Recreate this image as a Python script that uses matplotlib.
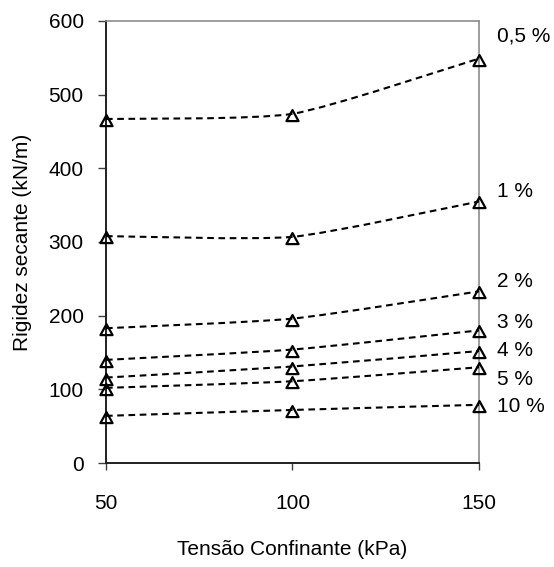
import matplotlib
matplotlib.use("Agg")
import matplotlib.pyplot as plt
from matplotlib.path import Path
from matplotlib.patches import PathPatch

# Confining pressure (kPa) and secant stiffness (kN/m) per strain level
confining_kpa = [50, 100, 150]
strain_labels = ["0,5 %", "1 %", "2 %", "3 %", "4 %", "5 %", "10 %"]
k_0_5 = [467, 474, 549]
k_1 = [308, 307, 355]
k_2 = [183, 196, 233]
k_3 = [140, 154, 180]
k_4 = [116, 131, 152]
k_5 = [102, 111, 130]
k_10 = [64, 72, 79]
series = [k_0_5, k_1, k_2, k_3, k_4, k_5, k_10]

# Vertical placement of the strain labels at the right edge (data units)
label_y = [580, 368, 246, 191, 153, 114, 77]

x_ticks = [50, 100, 150]
y_ticks = [0, 100, 200, 300, 400, 500, 600]

plt.rcParams["font.family"] = ["Liberation Sans", "DejaVu Sans"]
FS = 15

# Open triangle whose apex sits a little closer to the data point than its base
TRIANGLE = Path([(0, 0.667), (-0.917, -1.0), (0.917, -1.0), (0, 0.667)],
                [Path.MOVETO, Path.LINETO, Path.LINETO, Path.CLOSEPOLY])


def smooth_path(xs, ys, tension=0.1):
    """Cubic Bezier path through the points (Catmull-Rom style smoothing)."""
    pts = list(zip(xs, ys))
    n = len(pts)
    verts = [pts[0]]
    codes = [Path.MOVETO]
    for i in range(n - 1):
        p0 = pts[i - 1] if i > 0 else pts[i]
        p1 = pts[i]
        p2 = pts[i + 1]
        p3 = pts[i + 2] if i + 2 < n else pts[i + 1]
        c1 = (p1[0] + (p2[0] - p0[0]) * tension, p1[1] + (p2[1] - p0[1]) * tension)
        c2 = (p2[0] - (p3[0] - p1[0]) * tension, p2[1] - (p3[1] - p1[1]) * tension)
        verts += [c1, c2, p2]
        codes += [Path.CURVE4] * 3
    return Path(verts, codes)


fig = plt.figure(figsize=(5.54, 5.67), dpi=100)
ax = fig.add_axes([0.1913, 0.1834, 0.8646 - 0.1913, 0.963 - 0.1834])

for vals in series:
    patch = PathPatch(smooth_path(confining_kpa, vals), facecolor="none",
                      edgecolor="black", lw=1.5, linestyle=(0, (3.2, 2.2)),
                      transform=ax.transData, zorder=3)
    ax.add_patch(patch)
    ax.plot(confining_kpa, vals, linestyle="none", marker=TRIANGLE, ms=9.5,
            mfc="none", mec="black", mew=1.6, clip_on=False, zorder=4)

for lbl, ly in zip(strain_labels, label_y):
    kw = {}
    if lbl == "3 %":
        kw["bbox"] = dict(facecolor="white", edgecolor="none", pad=5.5)
    ax.annotate(lbl, xy=(150, ly), xytext=(13, 0), textcoords="offset points",
                ha="left", va="center", fontsize=FS, annotation_clip=False,
                zorder=6 if lbl == "3 %" else 5, **kw)

ax.set_xlim(50, 150)
ax.set_ylim(0, 600)
ax.set_xticks(x_ticks)
ax.set_yticks(y_ticks)
ax.tick_params(axis="both", direction="out", labelsize=FS, color="#404040",
               width=1.0)
ax.tick_params(axis="y", length=6, pad=10)
ax.tick_params(axis="x", length=5, pad=17)

for side in ("top", "right"):
    ax.spines[side].set_color("#8c8c8c")
    ax.spines[side].set_linewidth(1.2)
ax.spines["left"].set_color("#202020")
ax.spines["left"].set_linewidth(1.4)
ax.spines["bottom"].set_color("#202020")
ax.spines["bottom"].set_linewidth(1.4)

ax.set_xlabel("Tensão Confinante (kPa)", fontsize=FS, labelpad=20)
ax.set_ylabel("Rigidez secante (kN/m)", fontsize=FS, labelpad=12)

fig.savefig("out.png", dpi=100)
